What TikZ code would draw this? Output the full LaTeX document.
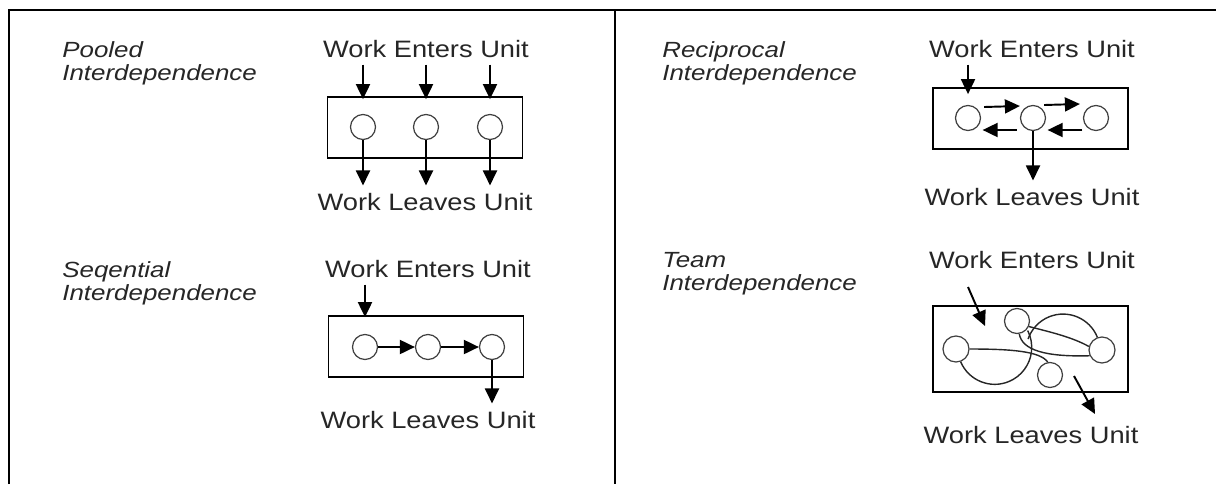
\documentclass[tikz,border=0pt]{standalone}
\usepackage{fontspec}
\setmainfont{Liberation Sans}
\newfontfamily\wufont[FakeStretch=1.15]{Liberation Sans}
\newfontfamily\typfont[FakeStretch=1.18]{Liberation Sans}
\usetikzlibrary{arrows.meta}

\begin{document}
\begin{tikzpicture}[x=0.02cm, y=-0.02cm,
  ubox/.style={draw, line width=1pt, minimum width=3.9cm, minimum height=1.22cm, inner sep=0pt},
  wcirc/.style={draw=black!75, circle, line width=0.7pt, minimum size=0.5cm, inner sep=0pt},
  wtext/.style={anchor=base, inner sep=0.14cm, font=\wufont\fontsize{13.5}{16}\selectfont, text=black!85},
  typlabel/.style={anchor=north west, align=left, inner sep=0pt, font=\typfont\itshape\fontsize{12.5}{13}\selectfont, text=black!85},
  arr/.style={-{Triangle[length=0.3cm, width=0.28cm]}, line width=1.1pt},
  tpath/.style={line width=0.8pt, black!85},
  frame/.style={line width=1.4pt}]
\useasboundingbox (0,0) rectangle (1216,484);
% Frame
\draw[frame] (9,484) -- (9,10) -- (1216,10);
\draw[frame] (615,10) -- (615,484);
% Pooled
\node[typlabel] (ptyp) at (62,41) {Pooled\\Interdependence};
\node[wtext] (penter) at (426,57) {Work Enters Unit};
\node[ubox] (pbox) at (425,127.5) {};
\node[wcirc] (p1) at (363,127) {};
\node[wcirc] (p2) at (426,127) {};
\node[wcirc] (p3) at (490,127) {};
\node[wtext] (pleave) at (425,210) {Work Leaves Unit};
\foreach \c in {p1,p2,p3}{
  \draw[arr, shorten >=-0.06cm] (\c |- penter.south) -- (\c |- pbox.north);
  \draw[arr] (\c.south) -- (\c |- pleave.north);
}
% Sequential
\node[typlabel] (styp) at (62,261) {Seqential\\Interdependence};
\node[wtext] (senter) at (428,277) {Work Enters Unit};
\node[ubox] (sbox) at (426,346.5) {};
\node[wcirc] (s1) at (365,347) {};
\node[wcirc] (s2) at (428,347) {};
\node[wcirc] (s3) at (492,347) {};
\node[wtext] (sleave) at (428,428) {Work Leaves Unit};
\draw[arr, shorten >=-0.04cm] (s1 |- senter.south) -- (s1 |- sbox.north);
\draw[arr] (s1) -- (s2);
\draw[arr] (s2) -- (s3);
\draw[arr] (s3.south) -- (s3 |- sleave.north);
% Reciprocal
\node[typlabel] (rtyp) at (662,41) {Reciprocal\\Interdependence};
\node[wtext] (renter) at (1032,57) {Work Enters Unit};
\node[ubox] (rbox) at (1030.5,118.5) {};
\node[wcirc] (r1) at (968,118) {};
\node[wcirc] (r2) at (1033,118) {};
\node[wcirc] (r3) at (1096,118) {};
\node[wtext] (rleave) at (1032,205) {Work Leaves Unit};
\draw[arr, shorten >=-0.14cm] (r1 |- renter.south) -- (r1 |- rbox.north);
\draw[arr] ([shift={(3,-11)}]r1.east) -- ([shift={(0,-12)}]r2.west);
\draw[arr] ([shift={(-2,-13)}]r2.east) -- ([shift={(-3,-14)}]r3.west);
\draw[arr] ([shift={(-3,12)}]r2.west) -- ([shift={(1.5,12)}]r1.east);
\draw[arr] ([shift={(-0.5,12)}]r3.west) -- ([shift={(1.5,12)}]r2.east);
\draw[arr] (r2.south) -- (r2 |- rleave.north);
% Team
\node[typlabel] (ttyp) at (662,252) {Team\\Interdependence};
\node[wtext] (tenter) at (1032,268) {Work Enters Unit};
\node[ubox, minimum height=1.72cm] (tbox) at (1030.5,349) {};
\node[wcirc, minimum size=0.52cm] (t1) at (956,349) {};
\node[wcirc] (t2) at (1017,321) {};
\node[wcirc, minimum size=0.52cm] (t3) at (1102,350) {};
\node[wcirc] (t4) at (1050,375) {};
\node[wtext] (tleave) at (1031,443) {Work Leaves Unit};
\coordinate (tin) at (968,287);
\coordinate (tinend) at (985,326);
\coordinate (tout) at (1074,376);
\coordinate (toutend) at (1095,414);
\draw[arr] (tin) -- (tinend);
\draw[arr] (tout) -- (toutend);
% paths between the workers
\draw[tpath] (t1.-70) arc[start angle=157, end angle=-27, radius=37];
\draw[tpath] (t3.110) arc[start angle=-22, end angle=-161, radius=37];
\draw[tpath] (t1.east) .. controls (1010,349) and (1040,351) .. (t4.100);
\draw[tpath] (t2.-80) .. controls (1022,350) and (1045,357) .. (t3.205);
\draw[tpath] (t2.-25) .. controls (1050,332) and (1072,337) .. (t3.165);
\end{tikzpicture}
\end{document}
